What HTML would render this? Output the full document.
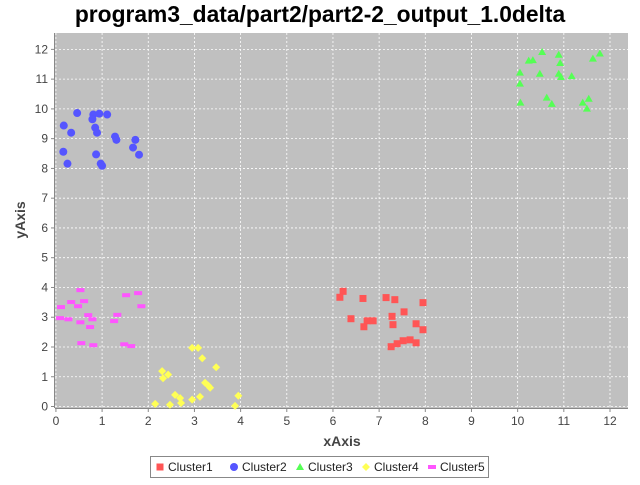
<!DOCTYPE html>
<html><head><meta charset="utf-8"><style>
body{margin:0;background:#fff;font-family:"Liberation Sans",sans-serif;}
</style></head><body>
<svg id="chart" width="640" height="480" xmlns="http://www.w3.org/2000/svg" font-family="Liberation Sans, sans-serif">
<text x="320" y="22" text-anchor="middle" font-size="22.8" font-weight="bold">program3_data/part2/part2-2_output_1.0delta</text>
<rect x="55" y="33" width="573" height="375" fill="#c0c0c0"/>
<g id="grid"></g><g id="axes"></g><g id="marks"></g>
<text x="342" y="446" text-anchor="middle" font-size="14" font-weight="bold" fill="#444">xAxis</text>
<text transform="translate(25,220) rotate(-90)" text-anchor="middle" font-size="14" font-weight="bold" fill="#444">yAxis</text>
<g id="legend"></g>
</svg>
<script>
const xTicks=[0,1,2,3,4,5,6,7,8,9,10,11,12];
const yTicks=[0,1,2,3,4,5,6,7,8,9,10,11,12];
const seriesNames=["Cluster1","Cluster2","Cluster3","Cluster4","Cluster5"];
const c1x=[6.22,6.15,6.65,7.15,7.34,7.95,7.54,6.39,7.28,6.74,6.87,6.67,7.3,7.8,7.95,7.26,7.39,7.52,7.67,7.8];
const c1y=[3.87,3.67,3.63,3.66,3.59,3.49,3.18,2.95,3.03,2.88,2.88,2.68,2.75,2.78,2.58,2.01,2.11,2.21,2.24,2.14];
const c2x=[0.46,0.81,0.94,1.11,0.79,0.17,0.33,0.85,0.89,1.28,1.31,1.72,1.67,1.8,0.16,0.87,0.25,0.97,1.0];
const c2y=[9.86,9.81,9.84,9.81,9.65,9.44,9.2,9.37,9.2,9.07,8.96,8.96,8.7,8.46,8.56,8.47,8.16,8.16,8.09];
const c3x=[10.53,10.89,11.78,11.63,10.24,10.33,10.92,10.05,10.48,10.89,10.94,11.17,10.05,10.63,10.74,10.06,11.41,11.54,11.5];
const c3y=[11.91,11.82,11.86,11.69,11.62,11.64,11.54,11.22,11.18,11.18,11.07,11.1,10.85,10.38,10.17,10.21,10.21,10.34,10.01];
const c4x=[2.95,3.08,3.17,3.47,2.3,2.43,2.32,3.23,3.3,3.34,2.58,2.69,2.71,2.95,3.12,2.15,2.47,3.95,3.88];
const c4y=[1.97,1.97,1.62,1.32,1.19,1.07,0.95,0.8,0.7,0.63,0.39,0.28,0.12,0.23,0.33,0.09,0.06,0.36,0.02];
const c5x=[0.53,0.11,0.33,0.48,0.61,0.09,0.27,0.7,0.79,0.53,0.74,0.55,0.81,1.52,1.78,1.85,1.33,1.26,1.48,1.63];
const c5y=[3.91,3.34,3.51,3.37,3.54,2.97,2.93,3.07,2.93,2.83,2.67,2.13,2.06,3.74,3.81,3.37,3.08,2.87,2.09,2.03];

const NS="http://www.w3.org/2000/svg";
const L=55,R=628,T=33,B=408,XMIN=-0.02,XMAX=12.39,YMIN=-0.05,YMAX=12.55;
const sx=v=>L+(v-XMIN)/(XMAX-XMIN)*(R-L);
const sy=v=>B-(v-YMIN)/(YMAX-YMIN)*(B-T);
function mk(tag,attrs,parent){const e=document.createElementNS(NS,tag);for(const k in attrs)e.setAttribute(k,attrs[k]);parent.appendChild(e);return e;}
const grid=document.getElementById('grid'),axes=document.getElementById('axes'),marks=document.getElementById('marks');
xTicks.forEach(t=>{const x=sx(t);
 const g=mk('line',{x1:x,x2:x,y1:T,y2:B,stroke:'#fff','stroke-dasharray':'2,2','stroke-width':0.8},grid);
 
 const tk=mk('line',{x1:x,x2:x,y1:B,y2:B+4,stroke:'#888'},axes);
 
 const lb=mk('text',{x:x,y:B+17,'text-anchor':'middle','font-size':12,fill:'#444'},axes);lb.textContent=t;
 });
yTicks.forEach(t=>{const y=sy(t);
 const g=mk('line',{x1:L,x2:R,y1:y,y2:y,stroke:'#fff','stroke-dasharray':'2,2','stroke-width':0.8},grid);
 
 const tk=mk('line',{x1:L-4,x2:L,y1:y,y2:y,stroke:'#888'},axes);
 
 const lb=mk('text',{x:L-7,y:y+4,'text-anchor':'end','font-size':12,fill:'#444'},axes);lb.textContent=t;
 });
const ax1=mk('line',{x1:L,x2:R,y1:B+0.5,y2:B+0.5,stroke:'#888'},axes);
const ax2=mk('line',{x1:L-0.5,x2:L-0.5,y1:T,y2:B,stroke:'#888'},axes);

const colors=["#ff5555","#5555ff","#55ff55","#ffff55","#ff55ff"];
function shape(i,x,y,parent){
 if(i===0)return mk('rect',{x:x-3.5,y:y-3.5,width:7,height:7,fill:colors[0]},parent);
 if(i===1)return mk('circle',{cx:x,cy:y,r:4,fill:colors[1]},parent);
 if(i===2)return mk('polygon',{points:`${x},${y-4} ${x+4},${y+3} ${x-4},${y+3}`,fill:colors[2]},parent);
 if(i===3)return mk('polygon',{points:`${x},${y-4} ${x+4},${y} ${x},${y+4} ${x-4},${y}`,fill:colors[3]},parent);
 return mk('rect',{x:x-4,y:y-2,width:8,height:4,fill:colors[4]},parent);}
const allX=[c1x,c2x,c3x,c4x,c5x],allY=[c1y,c2y,c3y,c4y,c5y];
allX.forEach((xs,i)=>{xs.forEach((v,j)=>{const p=shape(i,sx(v),sy(allY[i][j]),marks);
 
 });});

const lg=document.getElementById('legend');
const box=mk('rect',{x:150.5,y:456.5,width:338,height:21,fill:'#fff',stroke:'#888'},lg);

const lx=[160,234,300,366,432];
seriesNames.forEach((n,i)=>{const g=mk('g',{},lg);
 
 shape(i,lx[i],467,g);
 const t=mk('text',{x:lx[i]+8,y:471,'font-size':12,fill:'#222'},g);t.textContent=n;});
</script>
</body></html>
